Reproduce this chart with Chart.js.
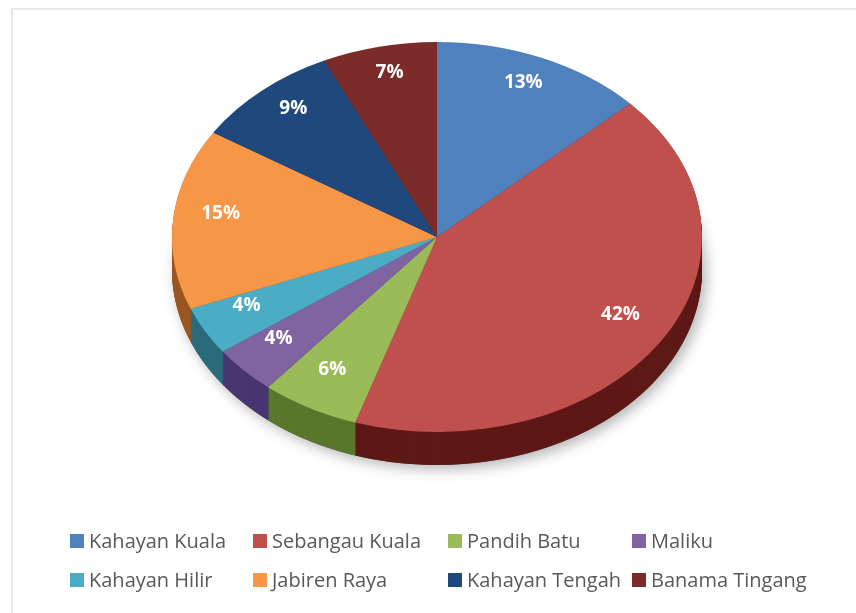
<!DOCTYPE html>
<html>
<head>
<meta charset="utf-8">
<script src="https://cdn.jsdelivr.net/npm/chart.js@4.4.1/dist/chart.umd.min.js"></script>
<style>
  body { margin: 0; background: #fff; }
  #wrap { position: relative; width: 856px; height: 613px; overflow: hidden; }
  #frame { position: absolute; left: 11px; top: 8px; width: 900px; height: 700px;
           border-left: 2px solid #e8e8e8; border-top: 2px solid #e8e8e8; box-sizing: border-box; }
  canvas { position: absolute; left: 0; top: 0; }
  #legend { position: absolute; left: 70px; top: 529px; display: grid;
            grid-template-columns: 183px 195px 184px 200px; row-gap: 16px;
            font-family: "Open Sans", sans-serif; font-size: 20px; color: #595959; }
  #legend div { display: flex; align-items: center; white-space: nowrap; height: 23px; }
  #legend span.box { width: 14px; height: 14px; margin-right: 5px; display: inline-block; }
</style>
</head>
<body>
<div id="wrap">
  <div id="frame"></div>
  <canvas id="pieChart" width="856" height="613"></canvas>
  <div id="legend"></div>
</div>
<script>
// data
const kecamatan = ['Kahayan Kuala', 'Sebangau Kuala', 'Pandih Batu', 'Maliku',
                   'Kahayan Hilir', 'Jabiren Raya', 'Kahayan Tengah', 'Banama Tingang'];
const persen = [13, 42, 6, 4, 4, 15, 9, 7];
const warna = ['#4f81bd', '#c0504d', '#9bbb59', '#8064a2', '#4bacc6', '#f79646', '#1f497d', '#7b2c2a'];
const warnaSisi = ['#2c4a72', '#5e1816', '#5a772c', '#473670', '#2a6a7a', '#9a5620', '#11294a', '#4a1716'];

const depth = 33; // tebal pie 3D

// plugin: pie miring + sisi 3D
const tiltPlugin = {
  id: 'tilt',
  beforeDatasetDraw(chart, args) {
    const ctx = chart.ctx;
    const a = chart.chartArea;
    const arcs = args.meta.data;
    const r = arcs[0].outerRadius, ox = arcs[0].x, oy = arcs[0].y;
    const rx = (a.right - a.left) / 2;
    const ry = (a.bottom - a.top - depth) / 2;
    const cx = (a.left + a.right) / 2, cy = a.top + ry;
    chart.$ellipse = { rx, ry, cx, cy, r };

    // bayangan
    ctx.save();
    ctx.shadowColor = 'rgba(0,0,0,0.3)';
    ctx.shadowBlur = 14;
    ctx.shadowOffsetX = 4;
    ctx.shadowOffsetY = 4;
    ctx.beginPath();
    ctx.ellipse(cx, cy + depth, rx, ry, 0, 0, Math.PI * 2);
    ctx.fillStyle = '#555';
    ctx.fill();
    ctx.restore();

    for (let d = depth; d > 0; d--) {
      ctx.save();
      ctx.translate(cx, cy + d);
      ctx.scale(rx / r, ry / r);
      arcs.forEach((arc, i) => {
        ctx.beginPath();
        ctx.moveTo(0, 0);
        ctx.arc(0, 0, r, arc.startAngle, arc.endAngle);
        ctx.closePath();
        ctx.fillStyle = warnaSisi[i];
        ctx.fill();
      });
      ctx.restore();
    }
    ctx.save();
    ctx.translate(cx, cy);
    ctx.scale(rx / r, ry / r);
    ctx.translate(-ox, -oy);
  },
  afterDatasetDraw(chart, args) {
    const ctx = chart.ctx;
    ctx.restore();
    const e = chart.$ellipse;
    ctx.save();
    ctx.font = 'bold 19px "Open Sans", sans-serif';
    ctx.fillStyle = '#fff';
    ctx.textAlign = 'center';
    ctx.textBaseline = 'middle';
    args.meta.data.forEach((arc, i) => {
      const mid = (arc.startAngle + arc.endAngle) / 2;
      const f = 0.82;
      const x = e.cx + Math.cos(mid) * e.rx * f;
      const y = e.cy + Math.sin(mid) * e.ry * f - 8;
      ctx.fillText(persen[i] + '%', x, y);
    });
    ctx.restore();
  }
};

const ctx = document.getElementById('pieChart').getContext('2d');
const myChart = new Chart(ctx, {
  type: 'pie',
  data: {
    labels: kecamatan,
    datasets: [{
      data: persen,
      backgroundColor: warna,
      borderWidth: 0,
      clip: false
    }]
  },
  options: {
    responsive: false,
    animation: false,
    layout: { padding: { left: 172, right: 154, top: 42, bottom: 148 } },
    plugins: {
      legend: { display: false },
      tooltip: { enabled: false }
    }
  },
  plugins: [tiltPlugin]
});

// legenda HTML
const legend = document.getElementById('legend');
kecamatan.forEach((nama, i) => {
  const item = document.createElement('div');
  item.innerHTML = '<span class="box" style="background:' + warna[i] + '"></span>' + nama;
  legend.appendChild(item);
});
</script>
</body>
</html>
